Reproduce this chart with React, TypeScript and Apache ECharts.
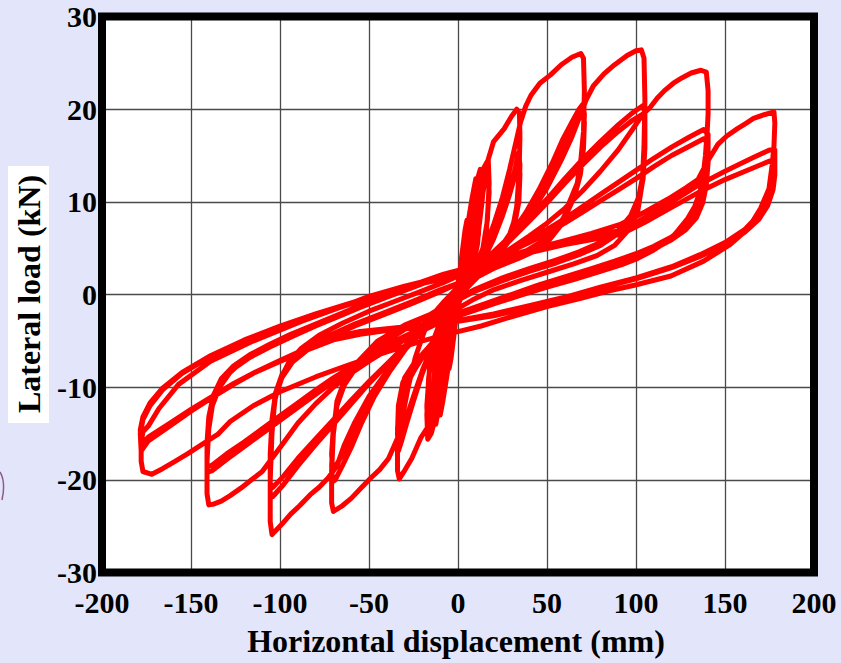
import React, { useEffect, useRef } from "react";
import * as echarts from "echarts";

const xTitle = "Horizontal displacement (mm)";
const yTitle = "Lateral load (kN)";
const xRange = [-200, 200];
const yRange = [-30, 30];

// Hysteresis trace, read cycle by cycle: [displacement mm, load kN]
const loop05 = [[0,0],[2,4],[4,7],[5,8],[4.5,6],[3,3],[1.5,1],[0,-0.5],[-2,-4],[-4,-7],[-5,-8],[-4.5,-6],[-3,-3],[-1.5,-1],[0,0.5],[2,4],[4,6.8],[5,7.5],[4.5,5.5],[3,2.5],[1,0],[-1,-2],[-3,-5],[-5,-7.5],[-4.5,-5.5],[-3,-2.5],[-1,0]];
const loop10 = [[-1,0],[2,3.5],[5,7],[8,10.5],[10,12.5],[10,10],[9,6],[7,3],[4,1],[0,-1],[-3,-4.5],[-6,-8.5],[-8.5,-11.5],[-10,-13],[-10,-10.5],[-9,-6.5],[-7,-3],[-4,-1],[-1,0.5],[2,3],[5,6.5],[8,9.5],[10,11.5],[10,9],[8.5,5],[6,2],[2,0],[-2,-2.5],[-5,-6.5],[-8,-10],[-10,-12],[-10,-9.5],[-8.5,-5.5],[-6,-2.5],[-2,0]];
const loop13 = [[-2,0],[2,2.5],[6,6.5],[9,10],[11,12.5],[12.5,13.5],[12.5,10.5],[11.5,6.5],[9,3.5],[5,1.5],[0,-1],[-4,-4.5],[-8,-9],[-11,-12.5],[-12.5,-14],[-12.5,-11],[-11.5,-7],[-9,-3.5],[-5,-1.2],[0,1],[4,3],[8,7],[11,10.5],[12.5,12.5],[12.5,9.5],[11,5.5],[8,2.5],[3,0.5],[-1,-1.5],[-5,-5],[-9,-9.5],[-12,-12.5],[-12.5,-13],[-12.5,-10],[-11,-6],[-8,-3],[-3,-0.5]];
const loop17 = [[-3,-0.5],[1,1.5],[5,3.5],[9,7],[12,11],[14,13.5],[16,14.2],[17,14.5],[17.5,12],[16.5,8],[14,5],[10,3],[5,1.5],[0,-0.5],[-4,-3],[-8,-6.5],[-11,-10.5],[-13,-13.5],[-15,-15],[-17,-15.6],[-17.5,-13],[-16.5,-9],[-14,-5.5],[-10,-3],[-5,-1],[0,1],[5,3],[10,6.5],[13,10],[15.5,12.5],[17,13.5],[17.5,11],[16,7],[13,4],[8,2],[2,0],[-3,-2],[-8,-5.5],[-12,-9.5],[-15,-13],[-17,-14.8],[-17.5,-12],[-16,-8],[-13,-4.5],[-8,-2],[-3,0]];
const loop35 = [[-3,0],[2,1.5],[7,3],[11,6],[13.5,10],[15,13],[17,14.6],[20,16.5],[26,17.9],[30,19.2],[33,20],[34.5,19.6],[34.8,17],[34.3,13],[33,9.5],[30,6.5],[24,4.5],[15,3],[5,1.5],[0,0.3],[-5,-1.5],[-10,-4],[-13,-8],[-15,-12],[-17,-14.3],[-21,-15.5],[-26,-17.7],[-30,-19],[-33,-19.9],[-34,-19],[-34,-16],[-33.5,-13],[-31,-10.5],[-28,-9.4],[-24,-8],[-19,-6.5],[-12,-5],[-8,-4.3],[-3,-2.5],[0,-1],
  [5,1],[10,2.5],[15,4.5],[20,6.5],[25,9],[29,11.5],[32,13.5],[34,15.3],[34.8,14],[34.3,11],[32.5,8.5],[29,6.5],[23,4.8],[14,3],[5,1.3],[0,0],[-5,-1.8],[-10,-3.8],[-15,-6],[-20,-8.5],[-25,-11.5],[-29,-14],[-32,-16],[-33.5,-16.9],[-34,-15],[-33.5,-12],[-31,-9.5],[-26,-7.8],[-18,-6],[-10,-4.3],[-4,-2.5],[0,-1],
  [5,0.8],[10,2.2],[15,4],[20,6],[25,8.5],[29,10.8],[32,12.8],[34,14.5],[34.8,13],[34.2,10],[32,7.8],[28,6],[22,4.5],[13,2.8],[5,1.2],[0,0],[-5,-1.6],[-10,-3.6],[-15,-5.8],[-20,-8.2],[-25,-11],[-29,-13.3],[-32,-15],[-33.5,-16],[-34,-14.5],[-33,-11.5],[-30,-9],[-25,-7.5],[-17,-5.8],[-9,-4],[-4,-2.3],[0,-0.8]];
const loop70 = [[0,-0.8],[5,1.5],[10,3],[15,5],[20,7.5],[25,10.5],[29,13.5],[32,16],[35,18.5],[38,20.3],[41,21.5],[46,22.8],[52,23.7],[58,24.8],[64,25.6],[69,26],[70.5,25.5],[71,22],[70.5,17.6],[69,14.5],[67,12],[62,9.7],[58,7.5],[50.5,5.7],[42,4.6],[34,3.9],[20,2.8],[10,1.8],[0,0.6],[-8,-0.8],[-14,-2.2],[-19,-4],[-24,-6.8],[-28,-10],[-31,-13],[-34,-15.5],[-39,-17.7],[-44,-18.9],[-49,-19.8],[-55,-21],[-60,-22],[-65,-22.8],[-70,-23.4],[-71,-22.5],[-71,-19],[-70,-15],[-68,-11.5],[-64,-9.4],[-56,-7.2],[-45,-5],[-30,-3.3],[-11,-1.8],[0,-0.6],
  [8,1.5],[18,3.5],[28,6],[38,8.8],[46,11.5],[53,14.2],[59,16.8],[64,18.6],[68,20],[70,20.5],[71,19.5],[70.5,16.5],[69,13.5],[66,11],[61,8.8],[55,7],[46,5.6],[34,4.2],[20,3],[8,1.8],[0,0.8],[-8,-0.8],[-18,-3],[-28,-5.5],[-38,-8.2],[-47,-11],[-54,-13.8],[-60,-16.5],[-65,-18.5],[-69,-20],[-70.5,-20.2],[-71,-18.5],[-70,-15],[-68,-12],[-64,-9.8],[-57,-7.8],[-46,-5.8],[-32,-4],[-16,-2.2],[0,-0.3],
  [8,1.3],[18,3.2],[28,5.6],[38,8.3],[46,10.9],[53,13.5],[59,16],[64,17.8],[68,19.1],[70,19.5],[71,18.6],[70.5,15.8],[68.8,13],[65.5,10.6],[60.5,8.5],[54,6.8],[45,5.4],[33,4.1],[19,2.9],[7,1.7],[0,0.7],[-8,-0.9],[-18,-2.9],[-28,-5.3],[-38,-7.8],[-47,-10.4],[-54,-13],[-60,-15.4],[-65,-17.3],[-69,-18.6],[-70.5,-18.8],[-71,-17.2],[-70,-14.2],[-67.5,-11.5],[-63,-9.4],[-56,-7.5],[-45,-5.6],[-31,-3.9],[-15,-2.1],[0,-0.3]];
const loop105 = [[0,-0.3],[10,2],[20,4],[30,6],[40,8.5],[50,11.5],[58,14.5],[64,17],[68,19],[72,21],[76,22.5],[82,23.8],[88,24.8],[95,25.8],[100,26.3],[103,26.4],[104.5,25.5],[105,21],[104.5,16],[103.5,12],[101,9],[96,7],[88,5.3],[78,4.2],[65,3.3],[50,2.4],[35,1.5],[20,0.5],[8,-0.6],[0,-1.5],[-10,-2.5],[-20,-4],[-30,-6],[-40,-8.3],[-50,-11],[-58,-13.8],[-64,-16.3],[-68,-18.5],[-73,-19.8],[-78,-20.8],[-83,-21.6],[-89,-22.8],[-94,-23.7],[-99,-24.8],[-103,-25.6],[-104.5,-25.9],[-105.5,-24.5],[-105.5,-20],[-104.5,-15],[-103,-11.5],[-100,-9.2],[-95,-7.3],[-88,-5.8],[-78,-4.4],[-65,-3.1],[-50,-1.8],[-35,-0.7],[-20,0.4],[-8,1.3],[0,2],
  [10,3],[20,4.6],[30,6.4],[40,8.3],[50,10.3],[60,12.5],[70,14.6],[80,16.5],[90,18.3],[98,19.6],[104,20.4],[105,19.5],[105,16.5],[104,13],[101.5,10.5],[97,8.5],[90,6.9],[80,5.6],[68,4.6],[55,3.7],[40,2.8],[25,1.8],[10,0.6],[0,-0.4],[-10,-1.8],[-20,-3.6],[-30,-5.6],[-40,-7.6],[-50,-9.6],[-60,-11.8],[-70,-14],[-80,-16.2],[-90,-18.5],[-98,-20.5],[-104,-21.8],[-105.5,-21.5],[-105.5,-18],[-104.5,-14],[-102.5,-11],[-99,-9],[-93,-7.3],[-84,-5.9],[-72,-4.6],[-58,-3.4],[-42,-2.2],[-25,-0.9],[-10,0.3],[0,1.2],
  [10,2.6],[20,4.2],[30,6],[40,7.9],[50,9.9],[60,12],[70,14],[80,15.9],[90,17.6],[98,18.8],[104,19.5],[105,18.7],[105,15.8],[104,12.5],[101.5,10],[97,8.1],[90,6.6],[80,5.3],[68,4.3],[55,3.4],[40,2.5],[25,1.5],[10,0.4],[0,-0.6],[-10,-2],[-20,-3.7],[-30,-5.6],[-40,-7.5],[-50,-9.4],[-60,-11.4],[-70,-13.5],[-80,-15.6],[-90,-17.7],[-98,-19.6],[-104,-20.8],[-105.5,-20.4],[-105.5,-17.2],[-104.5,-13.5],[-102.5,-10.6],[-99,-8.7],[-93,-7],[-84,-5.6],[-72,-4.4],[-58,-3.2],[-42,-2],[-25,-0.7],[-10,0.5],[0,1.2]];
const loop140 = [[0,1.2],[10,2.5],[20,3.8],[30,5],[40,6.3],[50,7.7],[60,9.3],[70,11.2],[80,13.3],[90,15.6],[98,17.8],[104,19.5],[108,20.2],[112,21.2],[116,22],[121,22.8],[126,23.4],[131,23.9],[136.5,24.2],[139.5,24],[140.5,22],[140.5,19.5],[140,17.6],[139,15],[138,13.3],[136,11.1],[133,9.5],[129,8.2],[124,7],[119.6,6],[110,4.8],[101,3.9],[91.6,3.2],[80,2.5],[65,1.6],[50,0.8],[35,-0.1],[20,-1],[8,-1.8],[0,-2.3],[-10,-3],[-20,-3.9],[-30,-4.9],[-40,-6],[-50,-7.2],[-60,-8.5],[-70,-10],[-80,-11.8],[-90,-13.9],[-98,-16],[-103,-17.3],[-110,-19.1],[-116,-20],[-122,-20.9],[-128,-21.7],[-133,-22.3],[-137,-22.6],[-140,-22.7],[-141,-21.5],[-141,-18],[-140,-14.5],[-138,-12],[-134,-10],[-128,-8.4],[-120,-7],[-110,-5.8],[-98,-4.7],[-85,-3.6],[-70,-2.5],[-55,-1.4],[-40,-0.3],[-25,0.8],[-10,1.9],[0,2.5],
  [10,3.2],[20,4],[30,4.9],[40,5.9],[50,7],[60,8.2],[70,9.5],[80,10.8],[90,12.1],[100,13.4],[110,14.7],[120,15.9],[130,17],[138,17.8],[140.5,17.3],[140.5,15],[139.5,12.5],[137.5,10.5],[134,8.8],[128,7.4],[120,6.2],[110,5.2],[100,4.4],[88,3.6],[75,2.8],[60,1.9],[45,1],[30,0],[15,-1],[0,-2],[-10,-2.7],[-20,-3.6],[-30,-4.6],[-40,-5.7],[-50,-6.9],[-60,-8.1],[-70,-9.4],[-80,-10.8],[-90,-12.2],[-100,-13.6],[-110,-15],[-120,-16.4],[-130,-17.8],[-138,-19],[-141,-19.2],[-141,-16.5],[-140,-13.5],[-137.5,-11.2],[-133,-9.4],[-126,-8],[-117,-6.8],[-106,-5.7],[-94,-4.6],[-80,-3.4],[-65,-2.2],[-50,-1],[-35,0.2],[-20,1.3],[-8,2.1],[0,2.6],
  [10,3.2],[20,3.9],[30,4.7],[40,5.6],[50,6.6],[60,7.7],[70,8.9],[80,10.1],[90,11.3],[100,12.5],[110,13.8],[120,15],[130,16],[138,16.8],[140.5,16.3],[140.5,14.2],[139.5,11.8],[137.5,9.9],[134,8.3],[128,7],[120,5.9],[110,4.9],[100,4.1],[88,3.3],[75,2.5],[60,1.6],[45,0.7],[30,-0.3],[15,-1.2],[0,-2.1],[-10,-2.8],[-20,-3.6],[-30,-4.5],[-40,-5.5],[-50,-6.6],[-60,-7.8],[-70,-9],[-80,-10.3],[-90,-11.7],[-100,-13.1],[-110,-14.5],[-120,-15.9],[-130,-17.2],[-138,-18.4],[-141,-18.6],[-141,-16],[-140,-13.2],[-137.5,-10.9],[-133,-9.1],[-126,-7.7],[-117,-6.5],[-106,-5.4],[-94,-4.3],[-80,-3.2],[-65,-2],[-50,-0.8],[-35,0.4],[-20,1.4],[-8,2.2],[0,2.6]];
const loop177 = [[0,2.6],[15,3.4],[30,4.2],[45,5],[60,5.8],[75,6.6],[91.6,7.6],[105,8.9],[118,10.3],[128,11.5],[134.8,12.4],[140,14.3],[146,16.2],[151,17.1],[157,17.9],[162,18.5],[166,19],[172,19.4],[177.5,19.7],[178,18.5],[177.5,16],[176.5,14],[174.7,11.4],[170,9.3],[163,7.1],[153,5.4],[138,3.6],[119.6,2],[99,1],[85,0.4],[69,-0.4],[50,-1.3],[30,-2.4],[13,-3.4],[0,-4],[-20,-5],[-40,-6.2],[-60,-7.5],[-80,-8.9],[-100,-10.5],[-115,-12],[-128,-13.7],[-135,-15.1],[-144,-16.2],[-152,-17.2],[-159,-18],[-166,-18.8],[-172,-19.4],[-177,-19.1],[-178,-18],[-178,-16],[-177,-14.8],[-174,-14.2],[-168,-12.3],[-157,-9.7],[-139,-7.2],[-116,-5.1],[-88,-2.9],[-62,-1.1],[-50,-0.2],[-30,0.9],[-13,1.7],[0,2.6],
  [20,3.7],[40,4.8],[60,5.8],[80,6.5],[91.6,6.9],[105,8.3],[120,10],[135,11.8],[150,13.3],[165,14.7],[175,15.6],[178,15.6],[178,14],[177,12.2],[174,10.2],[169,8.6],[161,7],[150,5.6],[136,4.3],[120,3],[100,1.8],[80,0.8],[60,-0.3],[40,-1.2],[20,-2.1],[0,-2.8],[-20,-3.3],[-40,-3.7],[-55,-4],[-70,-4.6],[-85,-5.8],[-101,-7.2],[-114,-8.4],[-126,-9.7],[-138,-11.1],[-150,-12.6],[-162,-14.2],[-174,-15.8],[-178,-16.9],[-178.5,-15],[-177,-13.5],[-173,-12],[-166,-10.3],[-155,-8.5],[-140,-6.8],[-120,-5],[-100,-3.5],[-80,-2.2],[-60,-1],[-40,0.2],[-20,1.3],[0,2.4],
  [20,3.5],[40,4.5],[60,5.4],[80,6.1],[91.6,6.5],[105,7.8],[120,9.4],[135,11],[150,12.4],[165,13.6],[175,14.4],[178,14.4],[178,12.9],[177,11.3],[174,9.6],[169,8.1],[161,6.7],[150,5.4],[136,4.1],[120,2.9],[100,1.7],[80,0.7],[60,-0.4],[40,-1.4],[20,-2.3],[0,-2.9],[-20,-3.5],[-40,-3.9],[-55,-4.3],[-70,-4.9],[-85,-6],[-101,-7.3],[-114,-8.4],[-126,-9.6],[-138,-11],[-150,-12.4],[-162,-13.9],[-174,-15.4],[-178,-16.2],[-178.5,-14.6],[-177,-13.2],[-173,-11.7],[-166,-10.1],[-155,-8.4],[-140,-6.7],[-120,-4.9],[-100,-3.4],[-80,-2.1],[-60,-0.9],[-40,0.3],[-20,1.2],[0,2]];

const loops = [loop05, loop10, loop13, loop17, loop35, loop70, loop105, loop140, loop177];

const GRID = { left: 102, top: 16.5, width: 712, height: 556 };
const SERIF = '"Liberation Serif", "Times New Roman", serif';

export default function App() {
  const ref = useRef<HTMLDivElement>(null);
  useEffect(() => {
    const chart = echarts.init(ref.current!, null, { renderer: "svg" });
    const data = ([] as number[][]).concat(...loops);
    chart.setOption({
      animation: false,
      backgroundColor: "#e3e6fa",
      grid: { ...GRID, show: true, backgroundColor: "#ffffff", borderWidth: 0, containLabel: false },
      xAxis: {
        type: "value", min: xRange[0], max: xRange[1], interval: 50,
        axisLine: { show: false }, axisTick: { show: false },
        splitLine: { show: true, lineStyle: { color: "#4a4a4a", width: 1.3 } },
        axisLabel: { fontFamily: SERIF, fontWeight: "bold", fontSize: 30, lineHeight: 24, color: "#000", margin: 18 },
      },
      yAxis: {
        type: "value", min: yRange[0], max: yRange[1], interval: 10,
        axisLine: { show: false }, axisTick: { show: false },
        splitLine: { show: true, lineStyle: { color: "#4a4a4a", width: 1.3 } },
        axisLabel: { fontFamily: SERIF, fontWeight: "bold", fontSize: 30, lineHeight: 24, color: "#000", margin: 5 },
      },
      series: [{
        type: "line", data, showSymbol: false, symbol: "none", silent: true,
        lineStyle: { color: "#ff0000", width: 5, join: "round", cap: "round" },
      }],
      graphic: [
        { type: "rect", z: 100, silent: true, shape: { x: GRID.left, y: GRID.top, width: GRID.width, height: GRID.height }, style: { fill: "none", stroke: "#000", lineWidth: 8 } },
        { type: "rect", z: 100, shape: { x: 8, y: 166, width: 41, height: 257 }, style: { fill: "#ffffff" } },
        { type: "text", z: 101, x: 29, y: 294, rotation: Math.PI / 2, style: { text: yTitle, fontFamily: SERIF, fontWeight: "bold", fontSize: 32, fill: "#000", align: "center", verticalAlign: "middle" } },
        { type: "text", z: 101, x: 456, y: 641, style: { text: xTitle, fontFamily: SERIF, fontWeight: "bold", fontSize: 32, fill: "#000", align: "center", verticalAlign: "middle" } },
        { type: "bezierCurve", z: 101, shape: { x1: 0, y1: 472, cpx1: 6, cpy1: 482, x2: 2, y2: 500 }, style: { stroke: "#8e5a8e", lineWidth: 1.5, fill: "none" } },
      ],
    });
    return () => chart.dispose();
  }, []);
  return <div ref={ref} style={{ position: "fixed", left: 0, top: 0, width: 841, height: 663 }} />;
}
